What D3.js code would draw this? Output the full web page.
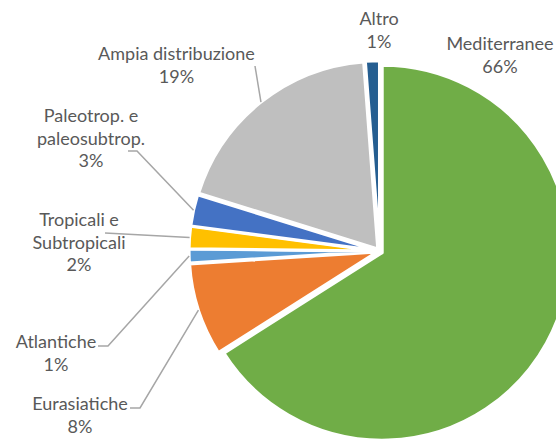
<!DOCTYPE html>
<html>
<head>
<meta charset="utf-8">
<script src="https://cdn.jsdelivr.net/npm/d3@7"></script>
<style>
    html, body { margin: 0; padding: 0; background: #fff; }
    #chart { width: 556px; height: 443px; }
    text { font-family: Lato, "Open Sans", sans-serif; fill: #595959; }
</style>
</head>
<body>
<div id="chart"></div>
<script>
// values, clockwise from 12 o'clock
const categories = ["Mediterranee", "Eurasiatiche", "Atlantiche",
    "Tropicali e Subtropicali", "Paleotrop. e paleosubtrop.",
    "Ampia distribuzione", "Altro"]
const values = [66, 8, 1.2, 1.9, 2.7, 19.0, 1.2]
const colors = ["#70ad47", "#ed7d31", "#5b9bd5", "#ffc000", "#4472c4", "#bfbfbf", "#255e91"]

// how each label is broken into lines
const labelLines = [
    ["Mediterranee"], ["Eurasiatiche"], ["Atlantiche"],
    ["Tropicali e", "Subtropicali"], ["Paleotrop. e", "paleosubtrop."],
    ["Ampia distribuzione"], ["Altro"]
]

const width = 556, height = 443,
    cx = 379.6, cy = 251.2, radius = 187.5, explode = 3,
    line_height = 22.5, font_size = "18px",
    leader_color = "#a6a6a6"

// label placement (centre x, first baseline) and leader elbow, layout only
const labelPos = [
    {x: 500, y: 50, leader: null},
    {x: 80, y: 410, leader: [[130, 408], [140, 408]]},
    {x: 56, y: 348, leader: [[98, 346], [108, 346]]},
    {x: 79, y: 226, leader: [[105, 233]]},
    {x: 91, y: 122, leader: [[128, 151], [137, 151]]},
    {x: 176.5, y: 60, leader: [[255, 66]]},
    {x: 379, y: 25, leader: null}
]

const data = categories.map((c, i) => ({name: c, value: values[i], color: colors[i], i: i}))
const total = d3.sum(values)
const pct = d3.format(".0%")

let svg = d3.select("#chart")
    .append("svg")
    .attr("width", width)
    .attr("height", height)

let pie = d3.pie()
    .sort(null)
    .value(d => d.value)

let arc = d3.arc()
    .innerRadius(0)
    .outerRadius(radius)

let arcs = pie(data)

function offset(d, r) {
    let a = (d.startAngle + d.endAngle) / 2
    return [Math.sin(a) * r, -Math.cos(a) * r]
}

let pieG = svg.append("g")
    .attr("transform", "translate(" + cx + "," + cy + ")")

pieG.selectAll("path")
    .data(arcs)
    .enter()
    .append("path")
    .attr("d", arc)
    .attr("fill", d => d.data.color)
    .attr("stroke", "#fff")
    .attr("stroke-width", 3)
    .attr("stroke-linejoin", "round")
    .attr("transform", d => {
        let o = offset(d, explode)
        return "translate(" + o[0] + "," + o[1] + ")"
    })

// leader lines from label to the slice edge
let lineGen = d3.line()
svg.append("g")
    .selectAll("path")
    .data(arcs.filter(d => labelPos[d.data.i].leader))
    .enter()
    .append("path")
    .attr("fill", "none")
    .attr("stroke", leader_color)
    .attr("stroke-width", 1.5)
    .attr("d", d => {
        let o = offset(d, radius + explode)
        let pts = labelPos[d.data.i].leader.concat([[cx + o[0], cy + o[1]]])
        return lineGen(pts)
    })

let labels = svg.append("g")
    .selectAll("text")
    .data(arcs)
    .enter()
    .append("text")
    .attr("text-anchor", "middle")
    .attr("font-size", font_size)

labels.each(function (d) {
    let p = labelPos[d.data.i]
    let lines = labelLines[d.data.i].concat([pct(d.data.value / total)])
    d3.select(this).selectAll("tspan")
        .data(lines)
        .enter()
        .append("tspan")
        .attr("x", p.x)
        .attr("y", (t, k) => p.y + k * line_height)
        .text(t => t)
})
</script>
</body>
</html>
